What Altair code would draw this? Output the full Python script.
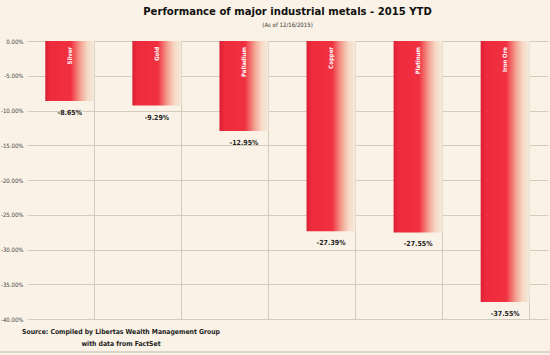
import altair as alt
import pandas as pd

metals = ["Silver", "Gold", "Palladium", "Copper", "Platinum", "Iron Ore"]
ytd = [-8.65, -9.29, -12.95, -27.39, -27.55, -37.55]
y_ticks = [0, -5, -10, -15, -20, -25, -30, -35, -40]
title_text = "Performance of major industrial metals - 2015 YTD"
subtitle_text = "(As of 12/16/2015)"
source_text = "Source:  Compiled by Libertas Wealth Management Group\nwith data from FactSet"

FONT = "DejaVu Sans Condensed, Liberation Sans Narrow, Liberation Sans, sans-serif"
BG = "#faf2e6"
GRID = "#d3ccbc"

df = pd.DataFrame({"metal": metals, "value": ytd})
df_src = pd.DataFrame({"txt": [source_text]})

x_scale = alt.Scale(paddingInner=0.437, paddingOuter=0.21)
y_scale = alt.Scale(domain=[-40, 0], nice=False)

y_axis = alt.Axis(values=y_ticks, tickCount=len(y_ticks), title=None, domain=False, ticks=False,
                  labelExpr="replace(format(datum.value, '.2f'), '\\u2212', '-') + '%'",
                  labelFont=FONT, labelFontSize=6, labelColor="#444444",
                  labelOverlap=False, labelPadding=4,
                  grid=True, gridColor=GRID, gridWidth=1)

grad = {
    "gradient": "linear",
    "x1": 0, "x2": 1, "y1": 0, "y2": 0,
    "stops": [
        {"offset": 0, "color": "#d92033"},
        {"offset": 0.1, "color": "#ee2a3d"},
        {"offset": 0.52, "color": "#f0303f"},
        {"offset": 0.72, "color": "#f4a494"},
        {"offset": 0.86, "color": "#f6dac6"},
        {"offset": 1, "color": "#f4eadb"},
    ],
}

base = alt.Chart(df)

bars = base.mark_bar(color=grad).encode(
    x=alt.X("metal:N", sort=metals, scale=x_scale,
            axis=alt.Axis(orient="top", title=None, labels=False, ticks=False,
                          domain=False, grid=True, gridColor=GRID, gridWidth=1,
                          bandPosition=1)),
    y=alt.Y("value:Q", scale=y_scale, axis=y_axis),
    y2=alt.datum(0),
)

cat_labels = base.mark_text(angle=270, align="right", baseline="middle",
                            color="white", fontWeight="bold", fontSize=6,
                            font=FONT).encode(
    x=alt.X("metal:N", sort=metals),
    y=alt.value(6),
    text="metal:N",
)

val_labels = base.transform_calculate(
    label="datum.value + '%'"
).mark_text(baseline="middle", dy=12, fontSize=7, fontWeight="bold",
            color="#222222", font=FONT).encode(
    x=alt.X("metal:N", sort=metals),
    y=alt.Y("value:Q", scale=y_scale, axis=y_axis),
    text="label:N",
)

source = alt.Chart(df_src).mark_text(
    align="center", baseline="middle", lineBreak="\n", lineHeight=12,
    fontSize=6.8, fontWeight="bold", color="#222222", font=FONT
).encode(x=alt.value(94), y=alt.value(291), text="txt:N")

bottom_line = alt.Chart(df_src).mark_rule(color="#bfb8aa", strokeWidth=1).encode(
    x=alt.value(-27), x2=alt.value(523), y=alt.value(311)
)

chart = alt.layer(bars, cat_labels, val_labels, source, bottom_line).properties(
    width=521,
    height=278,
    padding={"left": 27, "top": 41, "right": 2, "bottom": 36},
    autosize="none",
    background=BG,
    title=alt.TitleParams(
        text=title_text, subtitle=subtitle_text, anchor="middle",
        font=FONT, fontSize=11.2, fontWeight="bold", color="#111111",
        subtitleFont=FONT, subtitleFontSize=6, subtitleColor="#333333",
        subtitlePadding=5, offset=10,
    ),
).configure_view(strokeWidth=0)

chart.save("out.html", embed_options={"renderer": "svg", "actions": False})
